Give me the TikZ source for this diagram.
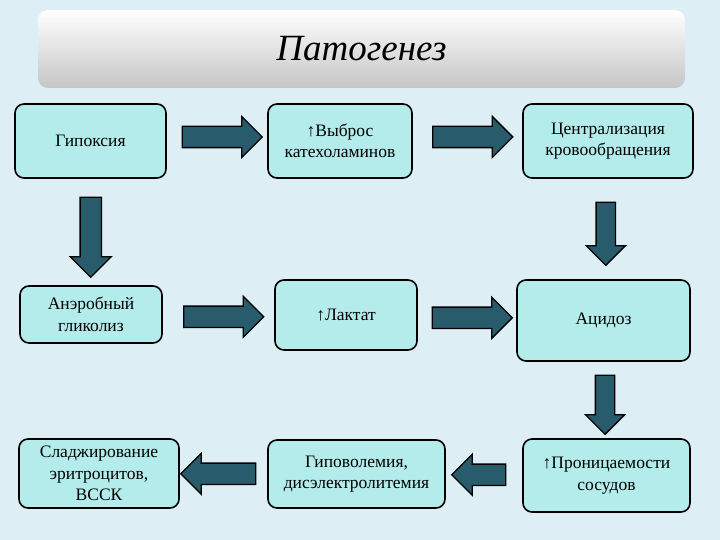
\documentclass[tikz,border=0pt]{standalone}
\usepackage{fontspec}
\setmainfont{Liberation Serif}
\usetikzlibrary{shapes.arrows}

\definecolor{slidebg}{HTML}{DDEEF4}
\definecolor{boxfill}{HTML}{B4EBEB}
\definecolor{arrowfill}{HTML}{285B6B}

\begin{document}
\begin{tikzpicture}[x=1pt, y=-1pt,
	box/.style={draw=black, fill=boxfill, line width=1.6pt, rounded corners=9pt, align=center, font=\fontsize{17.5}{21.5}\selectfont, inner sep=2pt},
	blockarrow/.style={single arrow, draw=black, fill=arrowfill, line width=1.3pt, inner sep=10pt, single arrow head extend=10pt, minimum height=#1},
	blockarrow/.default=80pt]
\fill[slidebg] (0, 0) rectangle (720, 540);

\node[rounded corners=10pt, top color=white, bottom color=gray!45, minimum width=647pt, minimum height=78pt, font=\fontsize{37}{40}\selectfont\itshape] at (361.5, 49) (title) {Патогенез};

\node[box, minimum width=151pt, minimum height=74pt] at (90.5, 141) (hyp) {Гипоксия};
\node[box, minimum width=144pt, minimum height=74pt] at (340, 141) (cat) {↑Выброс\\катехоламинов};
\node[box, minimum width=170pt, minimum height=74pt] at (608, 141) (centr) {Централизация\\кровообращения};

\node[box, minimum width=142pt, minimum height=57pt] at (91, 314.5) (glyc) {Анэробный\\гликолиз};
\node[box, minimum width=142pt, minimum height=70pt] at (346, 315) (lact) {↑Лактат};
\node[box, minimum width=173pt, minimum height=81pt] at (603.5, 320.5) (acid) {Ацидоз};

\node[box, minimum width=160pt, minimum height=69pt] at (99, 473.5) (sludge) {Сладжирование\\эритроцитов,\\ВССК};
\node[box, minimum width=177pt, minimum height=68pt] at (356.5, 474) (hypovol) {Гиповолемия,\\дисэлектролитемия};
\node[box, minimum width=167pt, minimum height=73pt] at (606.5, 475.5) (perm) {↑Проницаемости\\сосудов};

% arrows between the boxes
\path (hyp.east) -- node[blockarrow, yshift=4pt] {} (cat.west);
\path (cat.east) -- node[blockarrow, yshift=4pt] {} (centr.west);
\path (hyp.south) -- node[blockarrow, shape border rotate=270] {} (glyc.north);
\path (centr.south) -- node[blockarrow=63pt, inner sep=9pt, shape border rotate=270] {} (acid.north);
\path (glyc.east) -- node[blockarrow, yshift=-2pt] {} (lact.west);
\path (lact.east) -- node[blockarrow] {} (acid.west);
\path (acid.south) -- node[blockarrow=59pt, inner sep=9pt, shape border rotate=270] {} (perm.north);
\path (perm.west) -- node[blockarrow=54pt, shape border rotate=180] {} (hypovol.east);
\path (hypovol.west) -- node[blockarrow=75pt, shape border rotate=180] {} (sludge.east);

\end{tikzpicture}
\end{document}
